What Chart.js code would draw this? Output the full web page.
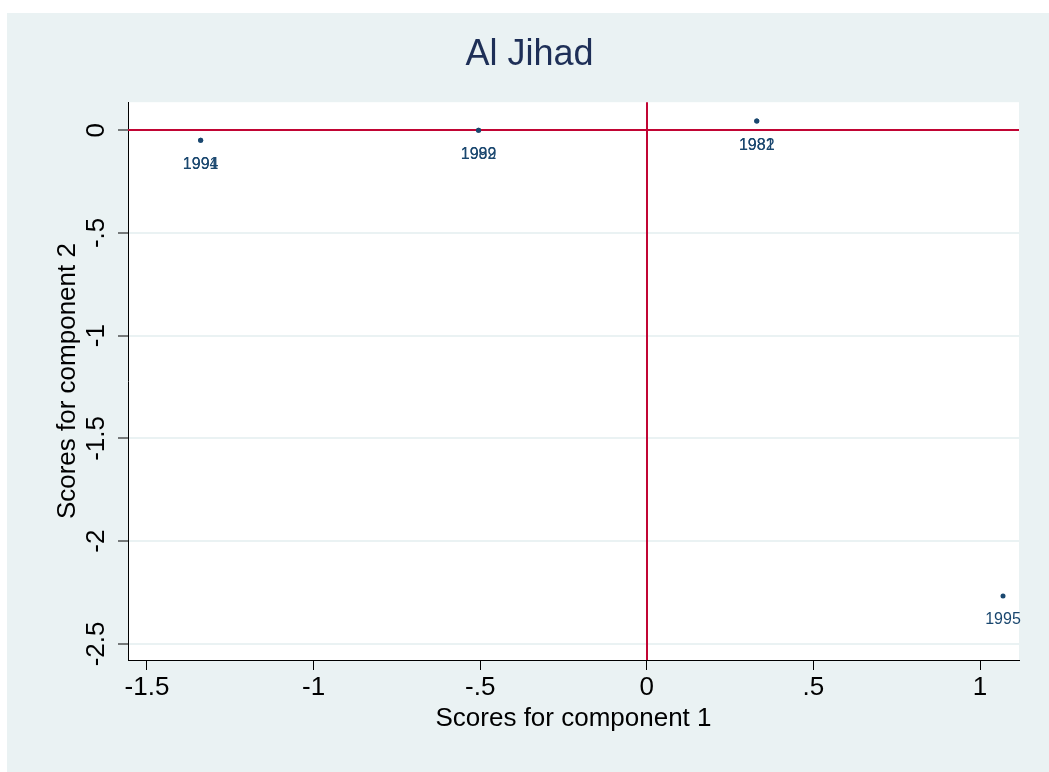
<!DOCTYPE html>
<html><head><meta charset="utf-8">
<script src="https://cdn.jsdelivr.net/npm/chart.js@4/dist/chart.umd.min.js"></script>
<style>html,body{margin:0;padding:0;background:#fff;}#wrap{position:absolute;left:0;top:0;width:1049px;height:772px;}</style>
</head><body><div id="wrap"><canvas id="c" width="1049" height="772"></canvas></div>
<script>
const years = ["1991","1994","1989","1992","1981","1982","1995"];
const comp1 = [-1.339,-1.339,-0.505,-0.505,0.330,0.330,1.069];
const comp2 = [-0.049,-0.049,0.0,0.0,0.044,0.044,-2.267];
const xTicks = [-1.5,-1,-0.5,0,0.5,1];
const yTicks = [0,-0.5,-1,-1.5,-2,-2.5];
const tickText = v => v===0 ? "0" : (v<0?"-":"") + (Math.abs(v)%1===0 ? String(Math.abs(v)) : String(Math.abs(v)).replace(/^0/,""));

const pts = comp1.map((x,i)=>({x:x,y:comp2[i],label:years[i]}));
const FONT = "'Liberation Sans', Arial, Helvetica, sans-serif";
const BG = '#eaf2f3';

const bgPlugin = {
  id:'bg',
  beforeDraw(chart){
    const {ctx, chartArea:a} = chart;
    ctx.save();
    ctx.fillStyle = BG;
    ctx.fillRect(7,13,chart.width-7,chart.height-13);
    ctx.fillStyle = '#ffffff';
    ctx.fillRect(a.left,a.top,a.right-a.left,a.bottom-a.top);
    ctx.restore();
  },
  beforeDatasetsDraw(chart){
    const {ctx, chartArea:a, scales:{x,y}} = chart;
    ctx.save();
    ctx.strokeStyle = '#c10534';
    ctx.lineWidth = 2;
    const px = Math.round(x.getPixelForValue(0));
    const py = Math.round(y.getPixelForValue(0));
    ctx.beginPath();
    ctx.moveTo(a.left, py); ctx.lineTo(a.right, py);
    ctx.moveTo(px, a.top); ctx.lineTo(px, a.bottom);
    ctx.stroke();
    ctx.restore();
  },
  afterDatasetsDraw(chart){
    const {ctx, scales:{x,y}} = chart;
    ctx.save();
    ctx.fillStyle = '#1a476f';
    ctx.font = "16px " + FONT;
    ctx.textAlign = 'center';
    ctx.textBaseline = 'middle';
    pts.forEach(p=>{
      ctx.fillText(p.label, x.getPixelForValue(p.x), y.getPixelForValue(p.y)+24);
    });
    ctx.restore();
  }
};

new Chart(document.getElementById('c'), {
  type:'scatter',
  data:{datasets:[{data:pts, backgroundColor:'#1a476f', borderColor:'#1a476f', pointRadius:2.5, pointHoverRadius:2.5, borderWidth:0}]},
  options:{
    responsive:false, animation:false, events:[],
    layout:{padding:{left:40,right:30,top:14,bottom:0}},
    plugins:{
      legend:{display:false}, tooltip:{enabled:false},
      title:{display:true, text:'Al Jihad', color:'#1e2f57', font:{family:FONT,size:36,weight:'normal'}, padding:{top:19,bottom:26}}
    },
    scales:{
      x:{type:'linear', min:-1.557, max:1.117,
        afterBuildTicks(s){ s.ticks = xTicks.map(v=>({value:v})); },
        afterFit(s){ s.height = 112; },
        ticks:{callback:v=>tickText(v), color:'#000', font:{family:FONT,size:26}, padding:2, maxRotation:0, autoSkip:false},
        grid:{display:true, drawOnChartArea:false, drawTicks:true, tickLength:10, tickColor:'#000', tickWidth:1},
        border:{display:true, color:'#000', width:1},
        title:{display:true, text:'Scores for component 1', color:'#000', font:{family:FONT,size:26}, padding:{top:0,bottom:38}}
      },
      y:{type:'linear', min:-2.578, max:0.136,
        afterBuildTicks(s){ s.ticks = yTicks.map(v=>({value:v})); },
        afterFit(s){ s.width = 88; },
        ticks:{callback:v=>tickText(v), color:'#000', font:{family:FONT,size:26}, padding:-1, crossAlign:'center', minRotation:90, maxRotation:90, autoSkip:false},
        grid:{display:true, color:'#eaf2f3', lineWidth:2, drawTicks:true, tickLength:10, tickColor:'#000', tickWidth:1},
        border:{display:true, color:'#000', width:1},
        title:{display:true, text:'Scores for component 2', color:'#000', font:{family:FONT,size:26}, padding:{top:12,bottom:0}}
      }
    }
  },
  plugins:[bgPlugin]
});
</script></body></html>
